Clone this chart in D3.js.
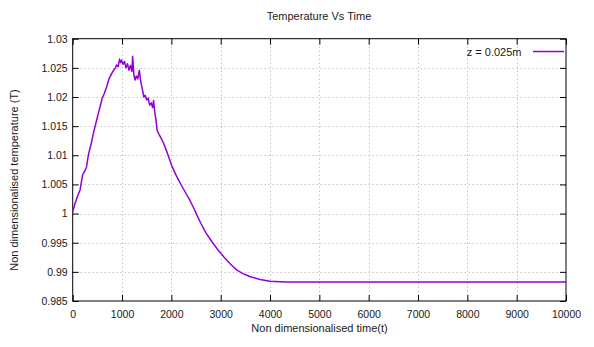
<!DOCTYPE html>
<html>
<head>
<meta charset="utf-8">
<script src="https://cdn.jsdelivr.net/npm/d3@7"></script>
<style>
  html, body { margin: 0; padding: 0; background: #fff; }
  svg { display: block; }
  text { font-family: "Liberation Sans", Arial, sans-serif; fill: #1a1a1a; }
</style>
</head>
<body>
<svg id="chart" width="594" height="347"></svg>
<script>
// Time samples and temperature at z = 0.025m
const times = [0, 50, 100, 150, 200, 250, 280, 320, 370, 420, 470, 520, 560, 600, 640, 690, 740, 790, 830, 860, 890, 920, 950, 970, 990, 1020, 1050, 1080, 1110, 1140, 1170, 1200, 1215, 1240, 1265, 1290, 1320, 1350, 1370, 1390, 1420, 1440, 1470, 1500, 1530, 1560, 1590, 1620, 1640, 1660, 1690, 1710, 1750, 1800, 1840, 1900, 1950, 2000, 2050, 2100, 2150, 2200, 2260, 2320, 2380, 2450, 2520, 2600, 2700, 2820, 2950, 3060, 3200, 3330, 3450, 3600, 3800, 4000, 4300, 10000];
const temps = [1.0003, 1.0018, 1.0030, 1.0041, 1.0066, 1.0074, 1.0080, 1.0102, 1.0118, 1.0138, 1.0155, 1.0172, 1.0185, 1.0198, 1.0206, 1.0218, 1.0232, 1.0240, 1.0246, 1.0249, 1.0255, 1.0252, 1.0265, 1.0259, 1.0263, 1.0256, 1.0261, 1.0250, 1.0257, 1.0246, 1.0254, 1.0244, 1.0270, 1.0238, 1.0229, 1.0236, 1.0231, 1.0246, 1.0232, 1.0222, 1.0210, 1.0200, 1.0203, 1.0195, 1.0198, 1.0186, 1.0190, 1.0182, 1.0194, 1.0176, 1.0160, 1.0143, 1.0136, 1.0128, 1.0121, 1.0108, 1.0096, 1.0084, 1.0074, 1.0065, 1.0057, 1.0049, 1.0040, 1.0031, 1.0022, 1.0010, 0.9997, 0.9983, 0.9967, 0.9952, 0.9937, 0.9926, 0.9913, 0.9903, 0.9897, 0.98915, 0.9887, 0.9884, 0.98828, 0.98825];
const xTicks = [0, 1000, 2000, 3000, 4000, 5000, 6000, 7000, 8000, 9000, 10000];
const yTicks = [0.985, 0.99, 0.995, 1, 1.005, 1.01, 1.015, 1.02, 1.025, 1.03];
const seriesName = "z = 0.025m";

const svg = d3.select("#chart");
const plotL = 72.7, plotR = 566, plotT = 38.7, plotB = 301;

const x = d3.scaleLinear().domain([0, 10000]).range([plotL, plotR]);
const y = d3.scaleLinear().domain([0.985, 1.03]).range([plotB, plotT]);

// dotted grid
const grid = svg.append("g").attr("stroke", "#a8a8a8").attr("stroke-width", 1)
  .attr("stroke-dasharray", "1,3");
xTicks.slice(1, -1).forEach(t => {
  grid.append("line").attr("x1", Math.round(x(t)) + 0.5).attr("x2", Math.round(x(t)) + 0.5)
    .attr("y1", plotT).attr("y2", plotB);
});
yTicks.slice(1, -1).forEach(t => {
  grid.append("line").attr("y1", Math.round(y(t)) + 0.5).attr("y2", Math.round(y(t)) + 0.5)
    .attr("x1", plotL).attr("x2", plotR);
});

// axes with inward ticks on all four sides
const fmtY = d => String(+d.toFixed(3));
const axB = svg.append("g").attr("transform", `translate(0,${plotB})`)
  .call(d3.axisBottom(x).tickValues(xTicks).tickSize(-6).tickPadding(10).tickFormat(d => d));
const axT = svg.append("g").attr("transform", `translate(0,${plotT})`)
  .call(d3.axisTop(x).tickValues(xTicks).tickSize(-6).tickFormat(""));
const axL = svg.append("g").attr("transform", `translate(${plotL},0)`)
  .call(d3.axisLeft(y).tickValues(yTicks).tickSize(-6).tickPadding(5).tickFormat(fmtY));
const axR = svg.append("g").attr("transform", `translate(${plotR},0)`)
  .call(d3.axisRight(y).tickValues(yTicks).tickSize(-6).tickFormat(""));
[axB, axT, axL, axR].forEach(a => {
  a.select(".domain").remove();
  a.selectAll("line").attr("stroke", "#000");
  a.selectAll("text").attr("font-size", "10.5px").attr("font-family", "Liberation Sans, Arial, sans-serif")
    .attr("fill", "#1a1a1a");
});

// frame
svg.append("rect").attr("x", plotL).attr("y", plotT).attr("width", plotR - plotL).attr("height", plotB - plotT)
  .attr("fill", "none").attr("stroke", "#000").attr("stroke-width", 1);

// temperature curve
const pts = times.map((t, i) => [t, temps[i]]);
svg.append("path").datum(pts)
  .attr("fill", "none").attr("stroke", "#9400d3").attr("stroke-width", 1.5)
  .attr("stroke-linejoin", "round")
  .attr("d", d3.line().x(d => x(d[0])).y(d => y(d[1])));

// legend
svg.append("text").attr("x", 521.5).attr("y", 56).attr("text-anchor", "end")
  .attr("font-size", "11px").text(seriesName);
svg.append("line").attr("x1", 533).attr("x2", 564).attr("y1", 51.5).attr("y2", 51.5)
  .attr("stroke", "#9400d3").attr("stroke-width", 1.5);

// titles
svg.append("text").attr("x", 319).attr("y", 20).attr("text-anchor", "middle")
  .attr("font-size", "11px").text("Temperature Vs Time");
svg.append("text").attr("x", 319.5).attr("y", 332).attr("text-anchor", "middle")
  .attr("font-size", "11px").text("Non dimensionalised time(t)");
svg.append("text").attr("transform", "translate(18,180) rotate(-90)").attr("text-anchor", "middle")
  .attr("font-size", "11px").text("Non dimensionalised temperature (T)");
</script>
</body>
</html>
